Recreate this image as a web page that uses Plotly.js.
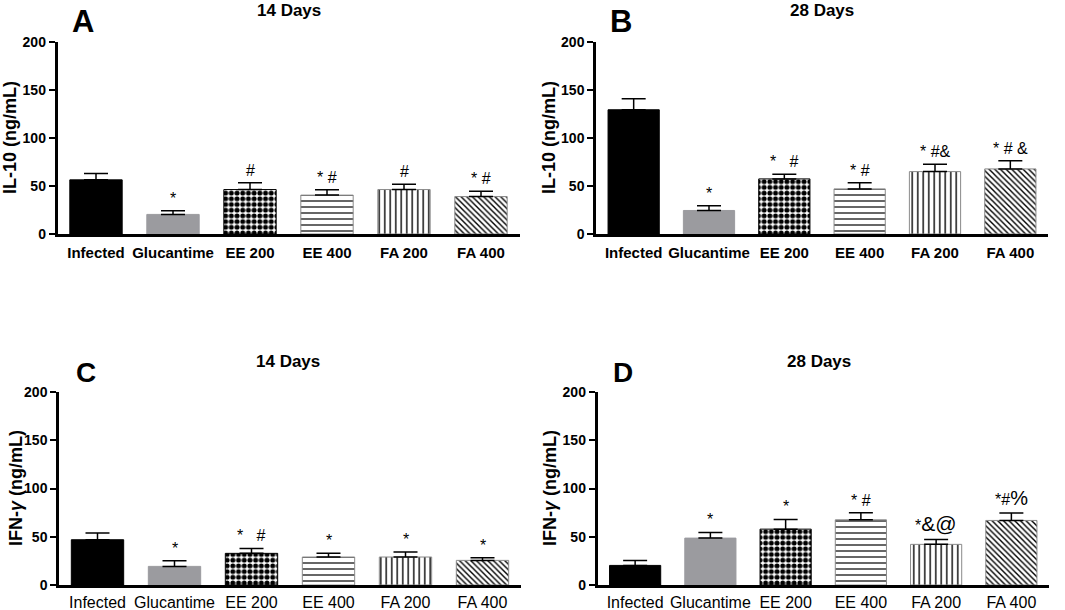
<!DOCTYPE html>
<html>
<head>
<meta charset="utf-8">
<script src="https://cdn.plot.ly/plotly-3.0.1.min.js"></script>
<style>
  body { margin: 0; background: #fff; }
  #grafico { width: 1065px; height: 610px; }
</style>
</head>
<body>
<div id="grafico"></div>
<script>
// grupos
const categorias = ["Infected", "Glucantime", "EE 200", "EE 400", "FA 200", "FA 400"];

// IL-10, 14 dias (A)
const il10Dia14 = [56.4, 20.4, 46.3, 40.5, 46.3, 39.0];
const il10Dia14Sem = [6.6, 3.8, 7.0, 5.5, 5.6, 5.6];
const il10Dia14Sig = ["", "*", "#", "* #", "#", "* #"];

// IL-10, 28 dias (B)
const il10Dia28 = [129.4, 24.5, 57.4, 47.0, 65.0, 67.8];
const il10Dia28Sem = [11.4, 4.9, 4.9, 6.3, 7.7, 8.6];
const il10Dia28Sig = ["", "*", "*   #", "* #", "* #&", "* # &"];

// IFN-gamma, 14 dias (C)
const ifnDia14 = [46.9, 19.3, 32.8, 29.0, 29.0, 25.5];
const ifnDia14Sem = [6.9, 5.9, 5.1, 3.8, 5.1, 2.8];
const ifnDia14Sig = ["", "*", "*   #", "*", "*", "*"];

// IFN-gamma, 28 dias (D)
const ifnDia28 = [20.3, 48.6, 57.9, 67.6, 42.1, 66.9];
const ifnDia28Sem = [5.2, 5.9, 10.0, 7.2, 5.1, 7.6];
const ifnDia28Sig = ["", "*", "*", "* #", "*<span style='font-size:21px'>&@</span>", "*#<span style='font-size:20px'>%</span>"];

const fuente = "'Liberation Sans', Arial, sans-serif";

// estilo de cada grupo (relleno y trama)
const colorBarra = ["#000000", "#9b9b9f", "#ffffff", "#ffffff", "#ffffff", "#ffffff"];
const bordeBarra = ["#000000", "#9b9b9f", "#000000", "#8a8a8a", "#8a8a8a", "#8a8a8a"];
const formaTrama = ["", "", ".", "-", "|", "\\"];
const tamTrama = [6, 6, 5.7, 6, 5.5, 4];
const solidezTrama = [0.3, 0.3, 0.6, 0.2, 0.25, 0.35];

const paneles = [
    { y: il10Dia14, sem: il10Dia14Sem, sig: il10Dia14Sig, eje: "" },
    { y: il10Dia28, sem: il10Dia28Sem, sig: il10Dia28Sig, eje: "2" },
    { y: ifnDia14, sem: ifnDia14Sem, sig: ifnDia14Sig, eje: "3" },
    { y: ifnDia28, sem: ifnDia28Sem, sig: ifnDia28Sig, eje: "4" }
];

let data = [];
let anotaciones = [];

paneles.forEach(function (p) {
    // una traza por grupo para que cada una tenga su propia trama
    for (let i = 0; i < categorias.length; i++) {
        let marker = {
            color: colorBarra[i],
            line: { color: bordeBarra[i], width: 1 }
        };
        if (formaTrama[i]) {
            marker.pattern = {
                shape: formaTrama[i],
                fgcolor: "#000000",
                bgcolor: colorBarra[i],
                size: tamTrama[i],
                solidity: solidezTrama[i],
                fillmode: "replace"
            };
        }
        data.push({
            type: "bar",
            x: [categorias[i]],
            y: [p.y[i]],
            xaxis: "x" + p.eje,
            yaxis: "y" + p.eje,
            marker: marker,
            error_y: {
                type: "data",
                symmetric: false,
                array: [p.sem[i]],
                arrayminus: [0],
                color: "#000000",
                thickness: 1.5,
                width: 12
            }
        });

        // simbolos de significancia
        if (p.sig[i]) {
            anotaciones.push({
                xref: "x" + p.eje,
                yref: "y" + p.eje,
                x: categorias[i],
                y: p.y[i] + p.sem[i],
                text: p.sig[i],
                showarrow: false,
                xanchor: "center",
                yanchor: "bottom",
                yshift: 2,
                font: { family: fuente, size: 16, color: "#000" }
            });
        }
    }
});

// titulos, letras y nombres de eje
function texto(x, y, t, size, extra) {
    return Object.assign({
        xref: "paper", yref: "paper", x: x, y: y, text: t,
        showarrow: false, xanchor: "center", yanchor: "middle",
        font: { family: fuente, size: size, color: "#000", weight: "bold" }
    }, extra || {});
}

anotaciones.push(texto(289 / 1065, 1 - 11 / 610, "14 Days", 17));
anotaciones.push(texto(822 / 1065, 1 - 11 / 610, "28 Days", 17));
anotaciones.push(texto(288 / 1065, 1 - 362 / 610, "14 Days", 17));
anotaciones.push(texto(819 / 1065, 1 - 362 / 610, "28 Days", 17));

anotaciones.push(texto(83 / 1065, 1 - 22 / 610, "A", 31));
anotaciones.push(texto(621 / 1065, 1 - 22 / 610, "B", 31));
anotaciones.push(texto(86 / 1065, 1 - 373 / 610, "C", 28));
anotaciones.push(texto(623 / 1065, 1 - 373 / 610, "D", 28));

anotaciones.push(texto(10 / 1065, 1 - 138 / 610, "IL-10 (ng/mL)", 18, { textangle: -90 }));
anotaciones.push(texto(549 / 1065, 1 - 138 / 610, "IL-10 (ng/mL)", 18, { textangle: -90 }));
anotaciones.push(texto(16 / 1065, 1 - 488 / 610, "IFN-<i>γ</i> (ng/mL)", 18, { textangle: -90 }));
anotaciones.push(texto(550 / 1065, 1 - 488 / 610, "IFN-<i>γ</i> (ng/mL)", 18, { textangle: -90 }));

function ejeX(dominio, ancla, bold, size, separacion) {
    return {
        domain: dominio,
        anchor: ancla,
        type: "category",
        categoryorder: "array",
        categoryarray: categorias,
        range: [-0.5, 5.5],
        showline: true,
        linecolor: "#000",
        linewidth: 2.5,
        ticks: "",
        ticklabelstandoff: separacion,
        showgrid: false,
        zeroline: false,
        fixedrange: true,
        tickfont: { family: fuente, size: size, color: "#000", weight: bold ? "bold" : "normal" }
    };
}

function ejeY(dominio, ancla) {
    return {
        domain: dominio,
        anchor: ancla,
        range: [0, 200],
        tickvals: [0, 50, 100, 150, 200],
        ticks: "outside",
        ticklen: 6,
        tickwidth: 2,
        tickcolor: "#000",
        showline: true,
        linecolor: "#000",
        linewidth: 2.5,
        showgrid: false,
        zeroline: false,
        fixedrange: true,
        tickfont: { family: fuente, size: 14, color: "#000", weight: "bold" }
    };
}

const filaArriba = [1 - 234 / 610, 1 - 42 / 610];
const filaAbajo = [1 - 585 / 610, 1 - 392 / 610];

const layout = {
    width: 1065,
    height: 610,
    margin: { l: 0, r: 0, t: 0, b: 0 },
    paper_bgcolor: "#fff",
    plot_bgcolor: "rgba(0,0,0,0)",
    showlegend: false,
    barmode: "overlay",
    bargap: 0.32,
    xaxis: ejeX([57.5 / 1065, 519.5 / 1065], "y", true, 15, 3),
    yaxis: ejeY(filaArriba, "x"),
    xaxis2: ejeX([596 / 1065, 1048 / 1065], "y2", true, 15, 3),
    yaxis2: ejeY(filaArriba, "x2"),
    xaxis3: ejeX([59 / 1065, 521 / 1065], "y3", false, 16, 1),
    yaxis3: ejeY(filaAbajo, "x3"),
    xaxis4: ejeX([597.5 / 1065, 1049 / 1065], "y4", false, 16, 1),
    yaxis4: ejeY(filaAbajo, "x4"),
    annotations: anotaciones
};

Plotly.newPlot("grafico", data, layout, { displayModeBar: false });
</script>
</body>
</html>
